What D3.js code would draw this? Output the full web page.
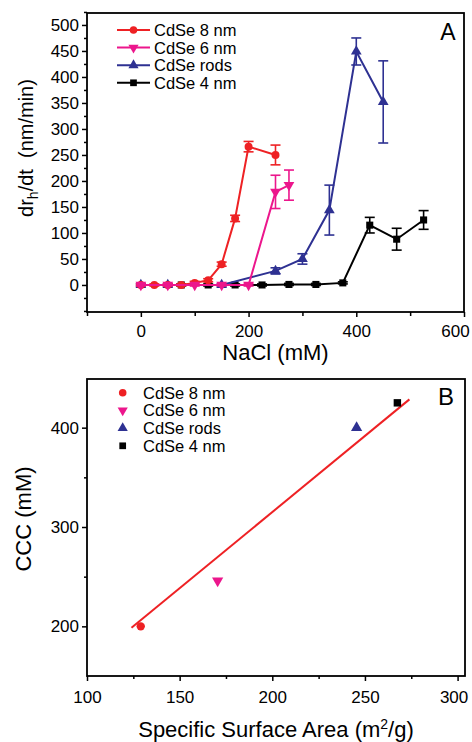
<!doctype html>
<html lang="en">
<head>
<meta charset="utf-8">
<title>CdSe aggregation</title>
<style>
    body { margin: 0; background: #fff; }
    svg { display: block; font-family: "Liberation Sans", Arial, sans-serif; }
    .axis path, .axis line { stroke: #000; stroke-width: 1.5; }
    .axis text { font-size: 17px; fill: #000; }
</style>
</head>
<body>
<svg id="chart" width="472" height="742"></svg>
<script src="https://d3js.org/d3.v7.min.js"></script>
<script>
    // panel A: aggregation rate vs NaCl
    const seriesNames = ["CdSe 8 nm", "CdSe 6 nm", "CdSe rods", "CdSe 4 nm"];
    const seriesColors = ["#ee2124", "#ec168c", "#2e3192", "#000000"];
    const seriesShapes = ["circle", "down", "up", "square"];

    const nacl8 = [0, 25, 50, 75, 100, 125, 150, 175, 200, 250];
    const rate8 = [0, 0, 0, 0, 4, 9, 40, 128, 266, 250];
    const err8  = [2, 2, 2, 2, 3, 3, 4, 6, 10, 19];

    const nacl6 = [0, 50, 100, 150, 200, 250, 275];
    const rate6 = [0, 0, 0, 0, 0, 179, 192];
    const err6  = [2, 2, 2, 2, 2, 32, 29];

    const naclRods = [0, 50, 150, 250, 300, 350, 400, 450];
    const rateRods = [0, 0, 0, 27, 50, 144, 449, 352];
    const errRods  = [2, 2, 2, 6, 10, 48, 26, 79];

    const nacl4 = [75, 125, 175, 225, 275, 325, 375, 425, 475, 525];
    const rate4 = [0, 0, 0, 0, 1, 1, 4, 115, 88, 125];
    const err4  = [2, 2, 2, 2, 2, 2, 2, 15, 21, 18];

    // panel B: CCC vs specific surface area
    const ssa = [129, 170.5, 245.5, 267.5];
    const ccc = [200, 246, 400, 425];
    const fitX = [124, 274];
    const fitY = [198.5, 428.5];

    const svg = d3.select("#chart");

    function marker(sel, shape, color, size) {
        const sym = {
            circle: d3.symbolCircle, up: d3.symbolTriangle,
            down: d3.symbolTriangle, square: d3.symbolSquare
        }[shape];
        sel.append("path")
            .attr("d", d3.symbol().type(sym).size(size))
            .attr("transform", shape === "down" ? "rotate(180)" : null)
            .attr("fill", color);
    }

    // ---------------- Panel A ----------------
    const A = {left: 87, right: 464, top: 13, bottom: 312};
    const xA = d3.scaleLinear().domain([-100, 600]).range([A.left, A.right]);
    const yA = d3.scaleLinear().domain([-52, 523]).range([A.bottom, A.top]);

    const gA = svg.append("g");

    gA.append("g").attr("class", "axis")
        .attr("transform", `translate(0,${A.bottom})`)
        .call(d3.axisBottom(xA).tickValues([0, 200, 400, 600]).tickSize(5).tickPadding(8).tickFormat(d3.format("d")))
        .call(g => g.select(".domain").remove())
        .call(g => g.selectAll(".tick text").filter(d => d === 600).attr("dx", -9));
    gA.append("g").attr("class", "axis")
        .attr("transform", `translate(0,${A.bottom})`)
        .call(d3.axisBottom(xA).tickValues([-100, 100, 300, 500]).tickSize(4).tickFormat(""))
        .call(g => g.select(".domain").remove());

    gA.append("g").attr("class", "axis")
        .attr("transform", `translate(${A.left},0)`)
        .call(d3.axisLeft(yA).tickValues(d3.range(0, 501, 50)).tickSize(5).tickPadding(3))
        .call(g => g.select(".domain").remove());
    gA.append("g").attr("class", "axis")
        .attr("transform", `translate(${A.left},0)`)
        .call(d3.axisLeft(yA).tickValues(d3.range(-50, 501, 50).map(v => v + 25).concat([-50])).tickSize(3).tickFormat(""))
        .call(g => g.select(".domain").remove());

    gA.append("rect")
        .attr("x", A.left).attr("y", A.top)
        .attr("width", A.right - A.left).attr("height", A.bottom - A.top)
        .attr("fill", "none").attr("stroke", "#000").attr("stroke-width", 1.8);

    const seriesA = [
        {x: nacl8, y: rate8, e: err8},
        {x: nacl6, y: rate6, e: err6},
        {x: naclRods, y: rateRods, e: errRods},
        {x: nacl4, y: rate4, e: err4}
    ];
    const drawOrder = [3, 2, 0, 1];
    const line = d3.line().x(d => xA(d[0])).y(d => yA(d[1]));

    drawOrder.forEach(i => {
        const s = seriesA[i];
        const pts = s.x.map((v, k) => [v, s.y[k], s.e[k]]);
        const g = gA.append("g");
        g.append("path").datum(pts)
            .attr("d", line).attr("fill", "none")
            .attr("stroke", seriesColors[i]).attr("stroke-width", 2);
        const eb = g.selectAll(".eb").data(pts).enter().append("g");
        eb.append("line")
            .attr("x1", d => xA(d[0])).attr("x2", d => xA(d[0]))
            .attr("y1", d => yA(d[1] - d[2])).attr("y2", d => yA(d[1] + d[2]))
            .attr("stroke", seriesColors[i]).attr("stroke-width", 1.6);
        [-1, 1].forEach(sg => {
            eb.append("line")
                .attr("x1", d => xA(d[0]) - 5).attr("x2", d => xA(d[0]) + 5)
                .attr("y1", d => yA(d[1] + sg * d[2])).attr("y2", d => yA(d[1] + sg * d[2]))
                .attr("stroke", seriesColors[i]).attr("stroke-width", 1.6);
        });
        g.selectAll(".m").data(pts).enter().append("g")
            .attr("transform", d => `translate(${xA(d[0])},${yA(d[1])})`)
            .each(function () { marker(d3.select(this), seriesShapes[i], seriesColors[i], 50); });
    });

    // legend A
    seriesNames.forEach((name, i) => {
        const y = 30 + i * 17.6;
        const g = gA.append("g");
        g.append("line").attr("x1", 117).attr("x2", 150).attr("y1", y).attr("y2", y)
            .attr("stroke", seriesColors[i]).attr("stroke-width", 2);
        marker(g.append("g").attr("transform", `translate(133.5,${y})`), seriesShapes[i], seriesColors[i], 45);
        g.append("text").attr("x", 154).attr("y", y + 6)
            .attr("font-size", "16.5px").text(name);
    });

    gA.append("text").attr("x", 448).attr("y", 40).attr("text-anchor", "middle")
        .attr("font-size", "23px").text("A");

    gA.append("text").attr("x", (A.left + A.right) / 2).attr("y", 360)
        .attr("text-anchor", "middle").attr("font-size", "22px").text("NaCl (mM)");

    const tA = gA.append("text")
        .attr("transform", "translate(33,148) rotate(-90)")
        .attr("text-anchor", "middle").attr("font-size", "20px");
    tA.append("tspan").text("dr");
    tA.append("tspan").attr("font-size", "14px").attr("dy", 5).text("h");
    tA.append("tspan").attr("dy", -5).text("/dt\u00a0\u00a0(nm/min)");

    // ---------------- Panel B ----------------
    const B = {left: 87, right: 465, top: 379, bottom: 676};
    const xB = d3.scaleLinear().domain([100, 304]).range([B.left, B.right]);
    const yB = d3.scaleLinear().domain([150, 449]).range([B.bottom, B.top]);

    const gB = svg.append("g");

    gB.append("g").attr("class", "axis")
        .attr("transform", `translate(0,${B.bottom})`)
        .call(d3.axisBottom(xB).tickValues([100, 150, 200, 250, 300]).tickSize(5).tickPadding(10))
        .call(g => g.select(".domain").remove())
        .call(g => g.selectAll(".tick text").filter(d => d === 300).attr("dx", -4));
    gB.append("g").attr("class", "axis")
        .attr("transform", `translate(0,${B.bottom})`)
        .call(d3.axisBottom(xB).tickValues([125, 175, 225, 275]).tickSize(3).tickFormat(""))
        .call(g => g.select(".domain").remove());

    gB.append("g").attr("class", "axis")
        .attr("transform", `translate(${B.left},0)`)
        .call(d3.axisLeft(yB).tickValues([200, 300, 400]).tickSize(5).tickPadding(3))
        .call(g => g.select(".domain").remove());
    gB.append("g").attr("class", "axis")
        .attr("transform", `translate(${B.left},0)`)
        .call(d3.axisLeft(yB).tickValues([250, 350]).tickSize(3).tickFormat(""))
        .call(g => g.select(".domain").remove());

    gB.append("rect")
        .attr("x", B.left).attr("y", B.top)
        .attr("width", B.right - B.left).attr("height", B.bottom - B.top)
        .attr("fill", "none").attr("stroke", "#000").attr("stroke-width", 1.8);

    gB.append("line")
        .attr("x1", xB(fitX[0])).attr("y1", yB(fitY[0]))
        .attr("x2", xB(fitX[1])).attr("y2", yB(fitY[1]))
        .attr("stroke", "#ee2124").attr("stroke-width", 2);

    ssa.forEach((v, i) => {
        marker(gB.append("g").attr("transform", `translate(${xB(v)},${yB(ccc[i])})`),
            seriesShapes[i], seriesColors[i], 55);
    });

    seriesNames.forEach((name, i) => {
        const y = 392.7 + i * 17.7;
        marker(gB.append("g").attr("transform", `translate(122.7,${y})`), seriesShapes[i], seriesColors[i], 45);
        gB.append("text").attr("x", 143).attr("y", y + 6)
            .attr("font-size", "16.5px").text(name);
    });

    gB.append("text").attr("x", 446).attr("y", 405).attr("text-anchor", "middle")
        .attr("font-size", "24px").text("B");

    const tBx = gB.append("text").attr("x", (B.left + B.right) / 2).attr("y", 737)
        .attr("text-anchor", "middle").attr("font-size", "22px");
    tBx.append("tspan").text("Specific Surface Area (m");
    tBx.append("tspan").attr("font-size", "14px").attr("dy", -8).text("2");
    tBx.append("tspan").attr("dy", 8).text("/g)");

    gB.append("text")
        .attr("transform", "translate(31,519) rotate(-90)")
        .attr("text-anchor", "middle").attr("font-size", "22px").text("CCC (mM)");
</script>
</body>
</html>
